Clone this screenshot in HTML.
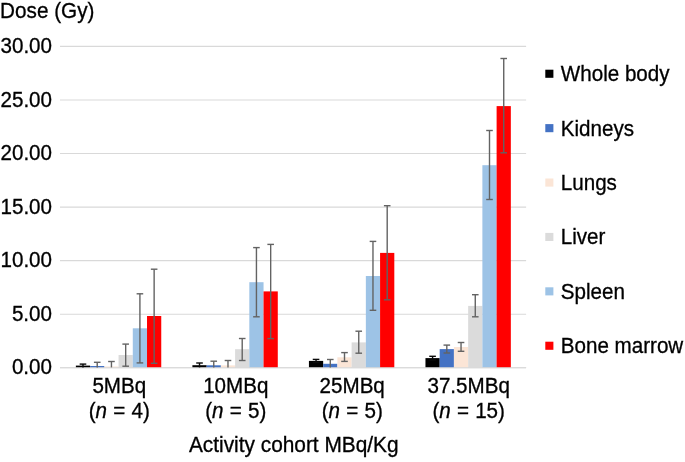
<!DOCTYPE html>
<html><head><meta charset="utf-8"><title>Dose chart</title>
<style>
html,body{margin:0;padding:0;background:#fff;}
body{width:685px;height:462px;overflow:hidden;}
svg{display:block;will-change:transform;}
text{font-family:"Liberation Sans",Arial,Helvetica,sans-serif;font-size:20.6px;fill:#000;stroke:#000;stroke-width:0.3px;}
</style></head><body>
<svg width="685" height="462" viewBox="0 0 685 462">
<rect width="685" height="462" fill="#fff"/>
<line x1="60.00" y1="367.80" x2="526.12" y2="367.80" stroke="#D9D9D9" stroke-width="1.1"/>
<text transform="translate(52.00 374.40) scale(1 1.050)" text-anchor="end">0.00</text>
<line x1="60.00" y1="314.23" x2="526.12" y2="314.23" stroke="#D9D9D9" stroke-width="1.1"/>
<text transform="translate(52.00 320.83) scale(1 1.050)" text-anchor="end">5.00</text>
<line x1="60.00" y1="260.65" x2="526.12" y2="260.65" stroke="#D9D9D9" stroke-width="1.1"/>
<text transform="translate(52.00 267.25) scale(1 1.050)" text-anchor="end">10.00</text>
<line x1="60.00" y1="207.08" x2="526.12" y2="207.08" stroke="#D9D9D9" stroke-width="1.1"/>
<text transform="translate(52.00 213.68) scale(1 1.050)" text-anchor="end">15.00</text>
<line x1="60.00" y1="153.50" x2="526.12" y2="153.50" stroke="#D9D9D9" stroke-width="1.1"/>
<text transform="translate(52.00 160.10) scale(1 1.050)" text-anchor="end">20.00</text>
<line x1="60.00" y1="99.93" x2="526.12" y2="99.93" stroke="#D9D9D9" stroke-width="1.1"/>
<text transform="translate(52.00 106.53) scale(1 1.050)" text-anchor="end">25.00</text>
<line x1="60.00" y1="46.35" x2="526.12" y2="46.35" stroke="#D9D9D9" stroke-width="1.1"/>
<text transform="translate(52.00 52.95) scale(1 1.050)" text-anchor="end">30.00</text>
<text transform="translate(0.10 17.80) scale(1 1.050)" text-anchor="start" style="font-size:20.7px">Dose (Gy)</text>
<rect x="75.87" y="365.60" width="14.23" height="2.20" fill="#000000"/>
<rect x="90.10" y="366.00" width="14.23" height="1.80" fill="#4472C4"/>
<rect x="104.33" y="366.50" width="14.23" height="1.30" fill="#FBE5D6"/>
<rect x="118.56" y="355.00" width="14.23" height="12.80" fill="#DBDBDB"/>
<rect x="132.79" y="328.30" width="14.23" height="39.50" fill="#9DC3E6"/>
<rect x="147.02" y="316.00" width="14.23" height="51.80" fill="#FF0000"/>
<rect x="192.40" y="365.20" width="14.23" height="2.60" fill="#000000"/>
<rect x="206.63" y="365.30" width="14.23" height="2.50" fill="#4472C4"/>
<rect x="220.86" y="365.40" width="14.23" height="2.40" fill="#FBE5D6"/>
<rect x="235.09" y="349.20" width="14.23" height="18.60" fill="#DBDBDB"/>
<rect x="249.32" y="282.20" width="14.23" height="85.60" fill="#9DC3E6"/>
<rect x="263.55" y="291.40" width="14.23" height="76.40" fill="#FF0000"/>
<rect x="308.93" y="360.90" width="14.23" height="6.90" fill="#000000"/>
<rect x="323.16" y="363.80" width="14.23" height="4.00" fill="#4472C4"/>
<rect x="337.39" y="357.30" width="14.23" height="10.50" fill="#FBE5D6"/>
<rect x="351.62" y="342.40" width="14.23" height="25.40" fill="#DBDBDB"/>
<rect x="365.85" y="276.00" width="14.23" height="91.80" fill="#9DC3E6"/>
<rect x="380.08" y="252.90" width="14.23" height="114.90" fill="#FF0000"/>
<rect x="425.46" y="358.10" width="14.23" height="9.70" fill="#000000"/>
<rect x="439.69" y="349.10" width="14.23" height="18.70" fill="#4472C4"/>
<rect x="453.92" y="347.00" width="14.23" height="20.80" fill="#FBE5D6"/>
<rect x="468.15" y="305.90" width="14.23" height="61.90" fill="#DBDBDB"/>
<rect x="482.38" y="165.20" width="14.23" height="202.60" fill="#9DC3E6"/>
<rect x="496.61" y="106.10" width="14.23" height="261.70" fill="#FF0000"/>
<line x1="60.00" y1="367.80" x2="526.12" y2="367.80" stroke="#D9D9D9" stroke-width="1.1"/>
<path d="M82.98 364.10V367.40" stroke="#0a0a0a" stroke-width="1.40" fill="none"/>
<path d="M79.69 364.10H86.28" stroke="#0a0a0a" stroke-width="1.40" fill="none"/>
<path d="M97.22 362.30V367.40" stroke="#636363" stroke-width="1.40" fill="none"/>
<path d="M93.92 362.30H100.52" stroke="#636363" stroke-width="1.40" fill="none"/>
<path d="M111.45 361.50V367.40" stroke="#636363" stroke-width="1.40" fill="none"/>
<path d="M108.15 361.50H114.75" stroke="#636363" stroke-width="1.40" fill="none"/>
<path d="M125.67 344.10V366.20" stroke="#636363" stroke-width="1.40" fill="none"/>
<path d="M122.38 344.10H128.97" stroke="#636363" stroke-width="1.40" fill="none"/>
<path d="M122.38 366.20H128.97" stroke="#636363" stroke-width="1.40" fill="none"/>
<path d="M139.91 293.80V362.90" stroke="#636363" stroke-width="1.40" fill="none"/>
<path d="M136.61 293.80H143.21" stroke="#636363" stroke-width="1.40" fill="none"/>
<path d="M136.61 362.90H143.21" stroke="#636363" stroke-width="1.40" fill="none"/>
<path d="M154.14 269.20V363.30" stroke="#636363" stroke-width="1.40" fill="none"/>
<path d="M150.84 269.20H157.44" stroke="#636363" stroke-width="1.40" fill="none"/>
<path d="M150.84 363.30H157.44" stroke="#636363" stroke-width="1.40" fill="none"/>
<path d="M199.52 363.00V367.40" stroke="#0a0a0a" stroke-width="1.40" fill="none"/>
<path d="M196.22 363.00H202.82" stroke="#0a0a0a" stroke-width="1.40" fill="none"/>
<path d="M213.75 361.20V367.40" stroke="#636363" stroke-width="1.40" fill="none"/>
<path d="M210.44 361.20H217.05" stroke="#636363" stroke-width="1.40" fill="none"/>
<path d="M227.98 360.50V367.40" stroke="#636363" stroke-width="1.40" fill="none"/>
<path d="M224.68 360.50H231.28" stroke="#636363" stroke-width="1.40" fill="none"/>
<path d="M242.21 338.50V360.50" stroke="#636363" stroke-width="1.40" fill="none"/>
<path d="M238.91 338.50H245.51" stroke="#636363" stroke-width="1.40" fill="none"/>
<path d="M238.91 360.50H245.51" stroke="#636363" stroke-width="1.40" fill="none"/>
<path d="M256.44 247.60V316.80" stroke="#636363" stroke-width="1.40" fill="none"/>
<path d="M253.13 247.60H259.74" stroke="#636363" stroke-width="1.40" fill="none"/>
<path d="M253.13 316.80H259.74" stroke="#636363" stroke-width="1.40" fill="none"/>
<path d="M270.67 244.40V338.60" stroke="#636363" stroke-width="1.40" fill="none"/>
<path d="M267.37 244.40H273.97" stroke="#636363" stroke-width="1.40" fill="none"/>
<path d="M267.37 338.60H273.97" stroke="#636363" stroke-width="1.40" fill="none"/>
<path d="M316.05 359.40V362.40" stroke="#0a0a0a" stroke-width="1.40" fill="none"/>
<path d="M312.75 359.40H319.35" stroke="#0a0a0a" stroke-width="1.40" fill="none"/>
<path d="M312.75 362.40H319.35" stroke="#0a0a0a" stroke-width="1.40" fill="none"/>
<path d="M330.28 359.50V367.40" stroke="#636363" stroke-width="1.40" fill="none"/>
<path d="M326.98 359.50H333.58" stroke="#636363" stroke-width="1.40" fill="none"/>
<path d="M344.50 352.60V361.40" stroke="#636363" stroke-width="1.40" fill="none"/>
<path d="M341.20 352.60H347.81" stroke="#636363" stroke-width="1.40" fill="none"/>
<path d="M341.20 361.40H347.81" stroke="#636363" stroke-width="1.40" fill="none"/>
<path d="M358.74 331.20V353.20" stroke="#636363" stroke-width="1.40" fill="none"/>
<path d="M355.44 331.20H362.04" stroke="#636363" stroke-width="1.40" fill="none"/>
<path d="M355.44 353.20H362.04" stroke="#636363" stroke-width="1.40" fill="none"/>
<path d="M372.97 241.40V310.30" stroke="#636363" stroke-width="1.40" fill="none"/>
<path d="M369.67 241.40H376.27" stroke="#636363" stroke-width="1.40" fill="none"/>
<path d="M369.67 310.30H376.27" stroke="#636363" stroke-width="1.40" fill="none"/>
<path d="M387.20 205.70V299.80" stroke="#636363" stroke-width="1.40" fill="none"/>
<path d="M383.90 205.70H390.50" stroke="#636363" stroke-width="1.40" fill="none"/>
<path d="M383.90 299.80H390.50" stroke="#636363" stroke-width="1.40" fill="none"/>
<path d="M432.58 356.30V359.90" stroke="#0a0a0a" stroke-width="1.40" fill="none"/>
<path d="M429.28 356.30H435.88" stroke="#0a0a0a" stroke-width="1.40" fill="none"/>
<path d="M429.28 359.90H435.88" stroke="#0a0a0a" stroke-width="1.40" fill="none"/>
<path d="M446.81 345.10V353.00" stroke="#636363" stroke-width="1.40" fill="none"/>
<path d="M443.51 345.10H450.11" stroke="#636363" stroke-width="1.40" fill="none"/>
<path d="M443.51 353.00H450.11" stroke="#636363" stroke-width="1.40" fill="none"/>
<path d="M461.04 342.50V351.30" stroke="#636363" stroke-width="1.40" fill="none"/>
<path d="M457.74 342.50H464.34" stroke="#636363" stroke-width="1.40" fill="none"/>
<path d="M457.74 351.30H464.34" stroke="#636363" stroke-width="1.40" fill="none"/>
<path d="M475.27 294.70V316.80" stroke="#636363" stroke-width="1.40" fill="none"/>
<path d="M471.97 294.70H478.57" stroke="#636363" stroke-width="1.40" fill="none"/>
<path d="M471.97 316.80H478.57" stroke="#636363" stroke-width="1.40" fill="none"/>
<path d="M489.50 130.50V199.50" stroke="#636363" stroke-width="1.40" fill="none"/>
<path d="M486.20 130.50H492.80" stroke="#636363" stroke-width="1.40" fill="none"/>
<path d="M486.20 199.50H492.80" stroke="#636363" stroke-width="1.40" fill="none"/>
<path d="M503.73 58.50V152.80" stroke="#636363" stroke-width="1.40" fill="none"/>
<path d="M500.43 58.50H507.03" stroke="#636363" stroke-width="1.40" fill="none"/>
<path d="M500.43 152.80H507.03" stroke="#636363" stroke-width="1.40" fill="none"/>
<text transform="translate(119.30 392.80) scale(1 1.050)" text-anchor="middle">5MBq</text>
<text transform="translate(119.30 417.60) scale(1 1.050)" text-anchor="middle" word-spacing="0.5">(<tspan font-style="italic">n</tspan> = 4)</text>
<text transform="translate(235.75 392.80) scale(1 1.050)" text-anchor="middle">10MBq</text>
<text transform="translate(235.75 417.60) scale(1 1.050)" text-anchor="middle" word-spacing="0.5">(<tspan font-style="italic">n</tspan> = 5)</text>
<text transform="translate(352.20 392.80) scale(1 1.050)" text-anchor="middle">25MBq</text>
<text transform="translate(352.20 417.60) scale(1 1.050)" text-anchor="middle" word-spacing="0.5">(<tspan font-style="italic">n</tspan> = 5)</text>
<text transform="translate(468.65 392.80) scale(1 1.050)" text-anchor="middle">37.5MBq</text>
<text transform="translate(468.65 417.60) scale(1 1.050)" text-anchor="middle" word-spacing="0.5">(<tspan font-style="italic">n</tspan> = 15)</text>
<text transform="translate(188.90 452.10) scale(1 1.050)" text-anchor="start" style="font-size:20.87px">Activity cohort MBq/Kg</text>
<rect x="545.3" y="69.70" width="8.1" height="8.1" fill="#000000"/>
<text transform="translate(560.80 81.15) scale(1 1.050)" text-anchor="start">Whole body</text>
<rect x="545.3" y="124.10" width="8.1" height="8.1" fill="#4472C4"/>
<text transform="translate(560.80 135.55) scale(1 1.050)" text-anchor="start">Kidneys</text>
<rect x="545.3" y="178.50" width="8.1" height="8.1" fill="#FBE5D6"/>
<text transform="translate(560.80 189.95) scale(1 1.050)" text-anchor="start">Lungs</text>
<rect x="545.3" y="232.90" width="8.1" height="8.1" fill="#DBDBDB"/>
<text transform="translate(560.80 244.35) scale(1 1.050)" text-anchor="start">Liver</text>
<rect x="545.3" y="287.30" width="8.1" height="8.1" fill="#9DC3E6"/>
<text transform="translate(560.80 298.75) scale(1 1.050)" text-anchor="start">Spleen</text>
<rect x="545.3" y="341.70" width="8.1" height="8.1" fill="#FF0000"/>
<text transform="translate(560.80 353.15) scale(1 1.050)" text-anchor="start">Bone marrow</text>
</svg>
</body></html>
